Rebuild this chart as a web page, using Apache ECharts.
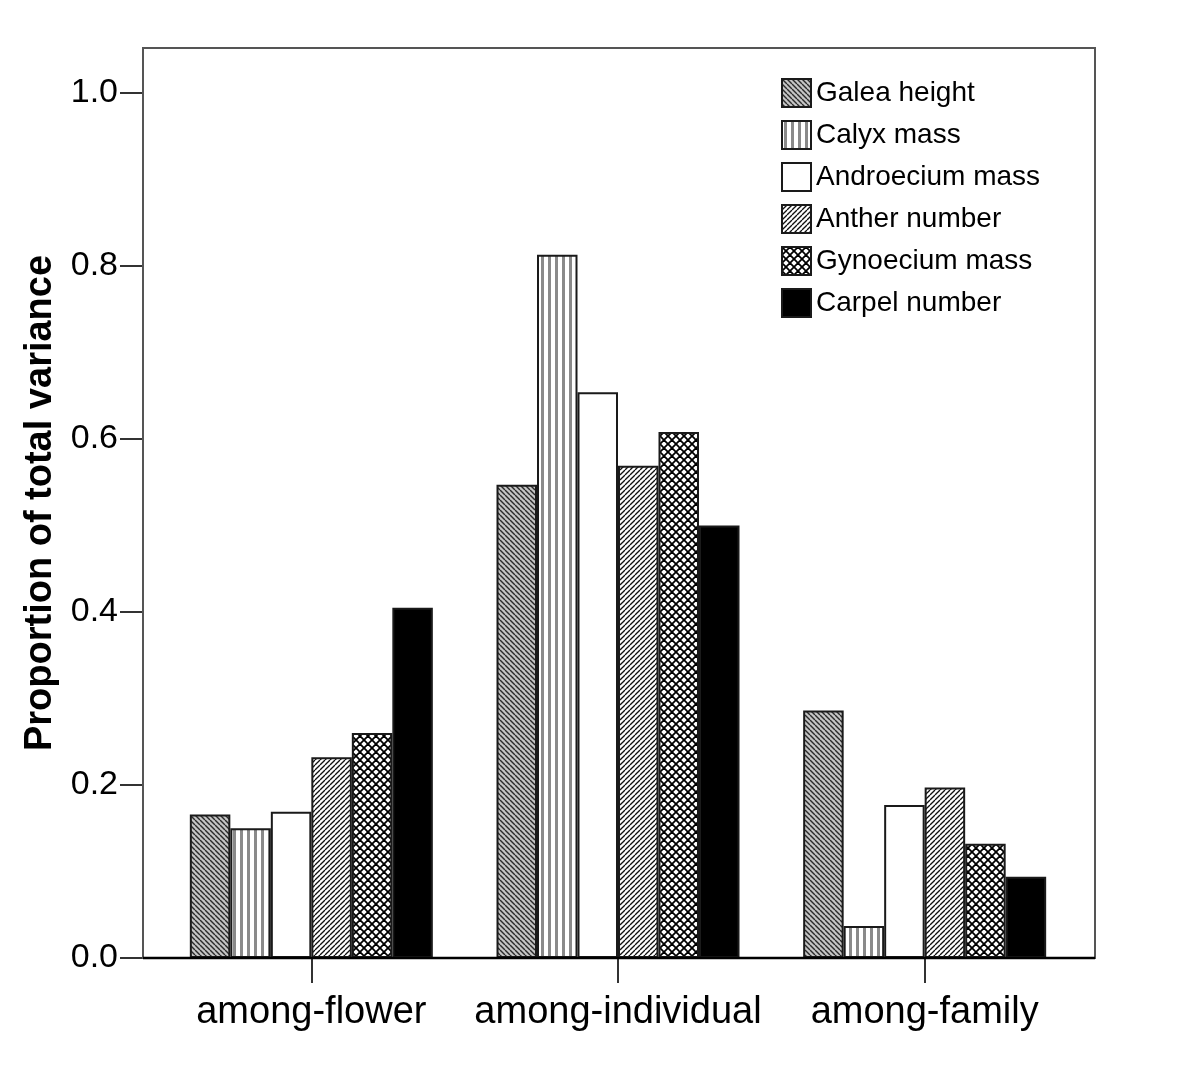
<!DOCTYPE html>
<html>
<head>
<meta charset="utf-8">
<script src="https://cdn.jsdelivr.net/npm/echarts@6/dist/echarts.min.js"></script>
<style>
html,body{margin:0;padding:0;background:#fff;}
#chart{width:1200px;height:1089px;}
</style>
</head>
<body>
<div id="chart"></div>
<script>
// ---- data ----
const categories = ['among-flower', 'among-individual', 'among-family'];
const seriesNames = ['Galea height', 'Calyx mass', 'Androecium mass', 'Anther number', 'Gynoecium mass', 'Carpel number'];
const galeaHeight    = [0.166, 0.547, 0.286];
const calyxMass      = [0.150, 0.813, 0.037];
const androeciumMass = [0.169, 0.654, 0.177];
const antherNumber   = [0.232, 0.569, 0.197];
const gynoeciumMass  = [0.260, 0.608, 0.132];
const carpelNumber   = [0.405, 0.500, 0.094];
const yTicks = [0, 0.2, 0.4, 0.6, 0.8, 1.0];

// ---- patterns ----
function tile(size, draw) {
  const c = document.createElement('canvas');
  c.width = size; c.height = size;
  const ctx = c.getContext('2d');
  draw(ctx, size);
  return { image: c, repeat: 'repeat' };
}
const patGalea = tile(5, (ctx, s) => {
  ctx.fillStyle = '#c4c4c4'; ctx.fillRect(0, 0, s, s);
  ctx.strokeStyle = '#2a2a2a'; ctx.lineWidth = 1.4;
  for (const k of [-s, 0, s]) { ctx.beginPath(); ctx.moveTo(k, 0); ctx.lineTo(k + s, s); ctx.stroke(); }
});
const patCalyx = tile(7, (ctx, s) => {
  ctx.fillStyle = '#ffffff'; ctx.fillRect(0, 0, s, s);
  ctx.fillStyle = '#8a8a8a'; ctx.fillRect(2, 0, 3, s);
});
const patAnther = tile(5, (ctx, s) => {
  ctx.fillStyle = '#ffffff'; ctx.fillRect(0, 0, s, s);
  ctx.strokeStyle = '#111'; ctx.lineWidth = 1.3;
  for (const k of [-s, 0, s]) { ctx.beginPath(); ctx.moveTo(k, s); ctx.lineTo(k + s, 0); ctx.stroke(); }
});
const patGyno = tile(8, (ctx, s) => {
  ctx.fillStyle = '#ffffff'; ctx.fillRect(0, 0, s, s);
  ctx.strokeStyle = '#000'; ctx.lineWidth = 1.8;
  for (const k of [-s, 0, s]) {
    ctx.beginPath(); ctx.moveTo(k, 0); ctx.lineTo(k + s, s); ctx.stroke();
    ctx.beginPath(); ctx.moveTo(k, s); ctx.lineTo(k + s, 0); ctx.stroke();
  }
});
const fills = [patGalea, patCalyx, '#ffffff', patAnther, patGyno, '#000000'];
const values = [galeaHeight, calyxMass, androeciumMass, antherNumber, gynoeciumMass, carpelNumber];

const font = '"Liberation Sans", Arial, sans-serif';

const chart = echarts.init(document.getElementById('chart'), null, { renderer: 'canvas' });
chart.setOption({
  animation: false,
  backgroundColor: '#ffffff',
  grid: { left: 158, right: 122, top: 48, bottom: 131, containLabel: false },
  legend: {
    orient: 'vertical', left: 781, top: 78, padding: 0,
    itemWidth: 29, itemHeight: 28, itemGap: 12,
    icon: 'rect', selectedMode: false,
    textStyle: { fontSize: 28, color: '#000', fontFamily: font, padding: [6, 0, 0, 0] },
    data: seriesNames
  },
  xAxis: {
    type: 'category', data: categories,
    axisLine: { show: false },
    axisTick: { show: true, interval: 0, alignWithLabel: true, length: 25, lineStyle: { color: '#333', width: 2 } },
    axisLabel: { interval: 0, fontSize: 38, color: '#000', fontFamily: font, margin: 36 },
    splitLine: { show: false }
  },
  yAxis: {
    type: 'value', min: 0, max: 1.052, interval: 0.2, offset: 15,
    name: 'Proportion of total variance', nameLocation: 'middle', nameRotate: 90, nameGap: 62,
    nameTextStyle: { fontSize: 38, fontWeight: 'bold', color: '#000', fontFamily: font },
    axisLine: { show: true, lineStyle: { color: '#444', width: 2 } },
    axisTick: { show: true, length: 23, customValues: yTicks, lineStyle: { color: '#333', width: 2 } },
    axisLabel: { fontSize: 34, color: '#000', fontFamily: font, margin: 25, customValues: yTicks,
      formatter: v => v.toFixed(1) },
    splitLine: { show: false }
  },
  graphic: [{
    type: 'rect', z: 100, silent: true,
    shape: { x: 143, y: 48, width: 952, height: 910 },
    style: { fill: 'none', stroke: '#555', lineWidth: 2 }
  }, {
    type: 'line', z: 101, silent: true,
    shape: { x1: 143, y1: 958, x2: 1095, y2: 958 },
    style: { stroke: '#000', lineWidth: 2.5 }
  }],
  series: seriesNames.map((n, i) => ({
    name: n, type: 'bar', data: values[i],
    barWidth: 40.5, barGap: '0%',
    itemStyle: { color: fills[i], borderColor: '#1a1a1a', borderWidth: 2 }
  }))
});
</script>
</body>
</html>
